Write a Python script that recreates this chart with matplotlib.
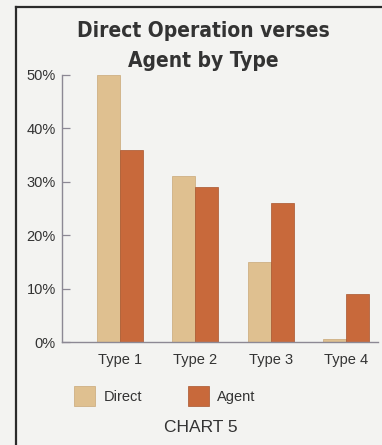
import matplotlib.pyplot as plt
from matplotlib.lines import Line2D
import numpy as np

# Data (percent)
types = ["Type 1", "Type 2", "Type 3", "Type 4"]
direct = [50, 31, 15, 0.5]
agent = [36, 29, 26, 9]
y_ticks = [0, 10, 20, 30, 40, 50]

bg = "#f3f3f1"
c_direct = "#dfc090"
c_agent = "#c8693b"
axis_col = "#8c8894"
text_col = "#333333"
font = ["Liberation Sans", "DejaVu Sans"]

fig = plt.figure(figsize=(3.82, 4.45), dpi=100, facecolor=bg)
ax = fig.add_axes([62/382, 1 - 342/445, 316/382, 267/445], facecolor=bg)

x = np.arange(len(types))
w = 0.305
b1 = ax.bar(x - w/2, direct, w, color=c_direct, edgecolor="#c9a878", linewidth=0.5, label="Direct")
b2 = ax.bar(x + w/2, agent, w, color=c_agent, edgecolor="#a8552d", linewidth=0.5, label="Agent")

ax.set_xlim(-0.77, 3.425)
ax.set_ylim(0, 50)
ax.set_yticks(y_ticks)
ax.set_yticklabels([f"{v}%" for v in y_ticks], fontsize=10.5, family=font, color=text_col)
ax.set_xticks(x)
ax.set_xticklabels(types, fontsize=10.5, family=font, color=text_col)
ax.tick_params(axis="x", length=0, pad=8)
ax.tick_params(axis="y", direction="in", length=5.5, width=0.9, color=axis_col, pad=4.5)
for s in ["top", "right"]:
    ax.spines[s].set_visible(False)
for s in ["left", "bottom"]:
    ax.spines[s].set_color(axis_col)
    ax.spines[s].set_linewidth(1.0)

# Title (heavy, condensed)
title_font = dict(fontsize=15, fontweight="bold", family="DejaVu Sans",
                  fontstretch="condensed", color="#333333", ha="center", va="center")
fig.text(203/382, 1 - 31/445, "Direct Operation verses", **title_font)
fig.text(203/382, 1 - 61/445, "Agent by Type", **title_font)

# Legend
fig.legend(handles=[b1, b2], loc="center", bbox_to_anchor=(165/382, 1 - 396/445),
           ncol=2, frameon=False, handlelength=1.44, handleheight=1.7,
           handletextpad=0.6, columnspacing=3.1,
           prop={"family": font, "size": 10.5}, labelcolor=text_col)

fig.text(201/382, 1 - 428/445, "CHART 5", ha="center", va="center",
         fontsize=12.5, family=font, color=text_col)

# Frame lines
fig.add_artist(Line2D([16/382, 16/382], [0, 1 - 7/445], transform=fig.transFigure,
                      color="#2b2b2b", linewidth=1.6))
fig.add_artist(Line2D([16/382, 1], [1 - 7/445, 1 - 7/445], transform=fig.transFigure,
                      color="#2b2b2b", linewidth=1.6))

fig.savefig("out.png", dpi=100, facecolor=bg)
